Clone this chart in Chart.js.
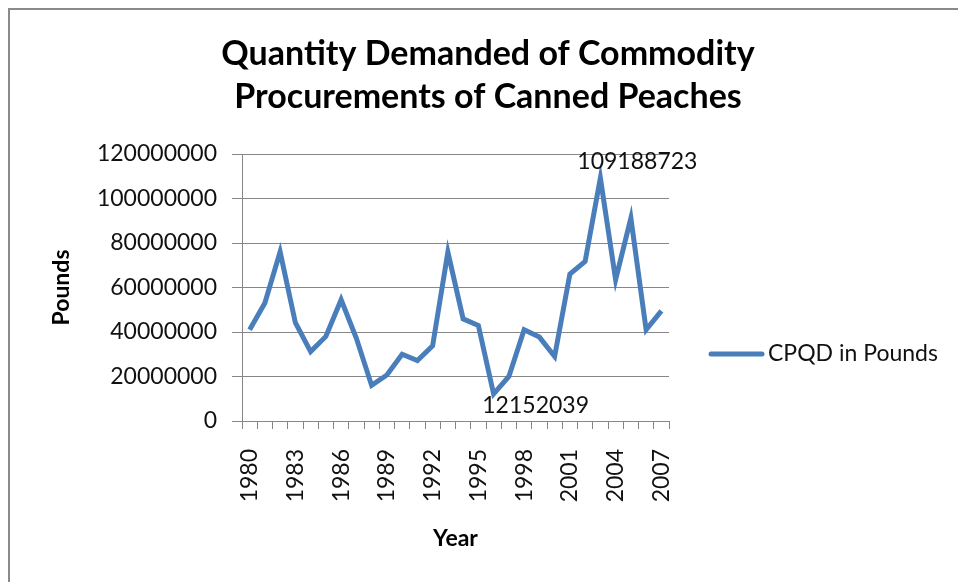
<!DOCTYPE html>
<html>
<head>
<meta charset="utf-8">
<script src="https://cdn.jsdelivr.net/npm/chart.js@4.4.1/dist/chart.umd.min.js"></script>
<style>
  html, body { margin: 0; padding: 0; background: #fff; }
  #wrap { width: 958px; height: 582px; position: relative; }
</style>
</head>
<body>
<div id="wrap"><canvas id="myChart"></canvas></div>
<script>
// years on the x axis
const years = [
  "1980", "1981", "1982", "1983", "1984", "1985", "1986", "1987", "1988", "1989",
  "1990", "1991", "1992", "1993", "1994", "1995", "1996", "1997", "1998", "1999",
  "2000", "2001", "2002", "2003", "2004", "2005", "2006", "2007"
];

// CPQD in pounds (min and max are the labelled ones)
const pounds = [
  41000000, 53000000, 76000000, 44200000, 31200000, 38000000, 54500000, 37200000, 16000000, 20700000,
  30000000, 27200000, 33800000, 75900000, 45900000, 42900000, 12152039, 20000000, 41000000, 37700000,
  29000000, 66000000, 71700000, 109188723, 63500000, 91200000, 41000000, 49500000
];

const yTicks = [0, 20000000, 40000000, 60000000, 80000000, 100000000, 120000000];

const seriesName = "CPQD in Pounds";
const lineColor = "#4a7ebb";
const gridColor = "#878787";
const textColor = "#111";

// gray frame round the whole chart
const framePlugin = {
  id: "frame",
  beforeDraw(chart) {
    const ctx = chart.ctx;
    ctx.save();
    ctx.strokeStyle = "#8a8a8a";
    ctx.lineWidth = 2;
    ctx.strokeRect(9, 9, chart.width + 20, chart.height + 20);
    ctx.restore();
  },
};

// labels on the highest and lowest point
const extremeLabels = {
  id: "extremeLabels",
  afterDatasetsDraw(chart) {
    const ctx = chart.ctx;
    const data = chart.data.datasets[0].data;
    const meta = chart.getDatasetMeta(0);
    const maxI = data.indexOf(Math.max(...data));
    const minI = data.indexOf(Math.min(...data));
    ctx.save();
    ctx.font = "23px Lato";
    ctx.fillStyle = textColor;
    ctx.textAlign = "center";
    ctx.textBaseline = "middle";
    let p = meta.data[maxI];
    ctx.fillText(String(data[maxI]), p.x + 37, p.y - 16);
    p = meta.data[minI];
    ctx.fillText(String(data[minI]), p.x + 42, p.y + 12);
    ctx.restore();
  },
};

// legend to the right of the plot
const sideLegend = {
  id: "sideLegend",
  afterDraw(chart) {
    const ctx = chart.ctx;
    const area = chart.chartArea;
    const ds = chart.data.datasets[0];
    const y = area.top + 200;
    ctx.save();
    ctx.strokeStyle = ds.borderColor;
    ctx.lineWidth = 5;
    ctx.lineCap = "round";
    ctx.beginPath();
    ctx.moveTo(area.right + 42, y);
    ctx.lineTo(area.right + 93, y);
    ctx.stroke();
    ctx.font = "23px Lato";
    ctx.fillStyle = textColor;
    ctx.textBaseline = "middle";
    ctx.fillText(ds.label, area.right + 99, y);
    ctx.restore();
  },
};

const myChart = new Chart("myChart", {
  type: "line",
  data: {
    labels: years,
    datasets: [
      {
        label: seriesName,
        data: pounds,
        borderColor: lineColor,
        borderWidth: 5,
        pointRadius: 0,
        fill: false,
        tension: 0,
        borderJoinStyle: "miter",
      },
    ],
  },
  options: {
    responsive: true,
    maintainAspectRatio: false,
    animation: false,
    layout: {
      padding: { left: 18, right: 0, top: 0, bottom: 10 },
    },
    plugins: {
      legend: { display: false },
      tooltip: { enabled: false },
      title: {
        display: true,
        text: ["Quantity Demanded of Commodity", "Procurements of Canned Peaches"],
        color: "#000",
        font: { family: "Lato", size: 34, weight: "bold", lineHeight: "43px" },
        padding: { top: 33, bottom: 35 },
      },
    },
    scales: {
      x: {
        type: "category",
        offset: true,
        grid: {
          offset: true,
          drawOnChartArea: false,
          drawTicks: true,
          tickLength: 8,
          tickColor: gridColor,
        },
        border: { color: gridColor, width: 1 },
        ticks: {
          autoSkip: false,
          maxRotation: 90,
          minRotation: 90,
          padding: 20,
          color: textColor,
          font: { family: "Lato", size: 23 },
          callback: function (val, i) {
            return i % 3 === 0 ? this.getLabelForValue(val) : "";
          },
        },
        title: {
          display: true,
          text: "Year",
          color: "#000",
          font: { family: "Lato", size: 23, weight: "bold", lineHeight: 1.2 },
          padding: { top: 0, bottom: 20 },
        },
        afterFit(scale) {
          scale.height = 151;
        },
      },
      y: {
        min: yTicks[0],
        max: yTicks[yTicks.length - 1],
        afterBuildTicks(scale) {
          scale.ticks = yTicks.map((v) => ({ value: v }));
        },
        grid: {
          color: gridColor,
          tickLength: 10,
          tickColor: gridColor,
        },
        border: { color: gridColor, width: 1 },
        ticks: {
          padding: 15,
          color: textColor,
          font: { family: "Lato", size: 23 },
          callback: (v) => String(v),
        },
        title: {
          display: true,
          text: "Pounds",
          color: "#000",
          font: { family: "Lato", size: 23, weight: "bold", lineHeight: 1.2 },
          padding: { top: 30, bottom: 0 },
        },
        afterFit(scale) {
          scale.width = 224;
        },
      },
      // empty axis that only keeps room on the right for the legend
      side: {
        type: "linear",
        position: "right",
        display: true,
        grid: { display: false },
        border: { display: false },
        ticks: { display: false },
        afterFit(scale) {
          scale.width = 289;
        },
      },
    },
  },
  plugins: [framePlugin, extremeLabels, sideLegend],
});
</script>
</body>
</html>
